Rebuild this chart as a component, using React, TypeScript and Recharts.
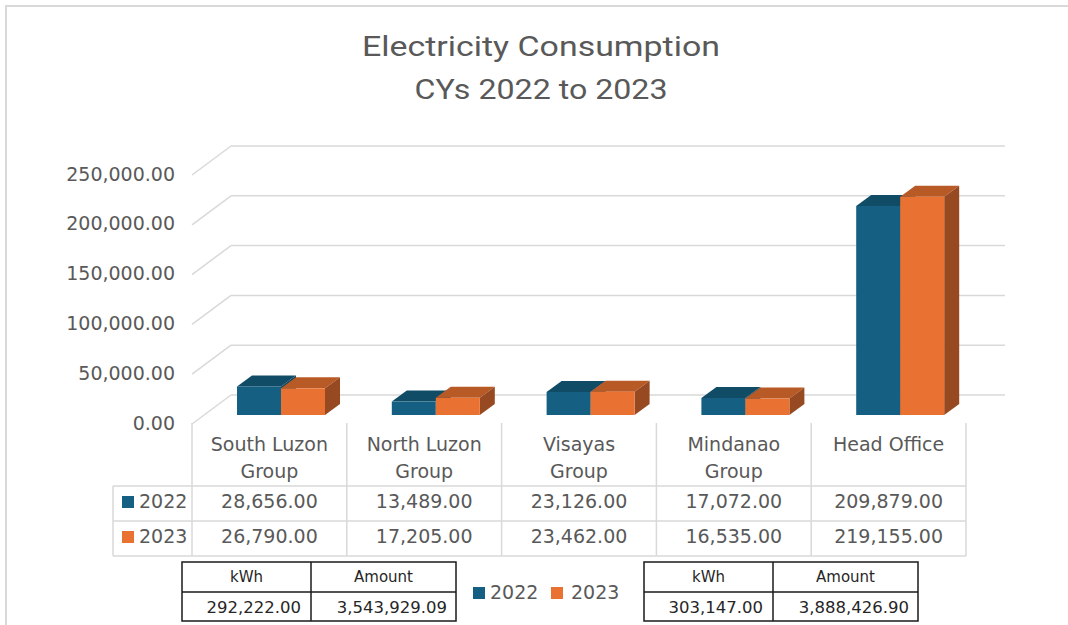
import React from "react";
import { ComposedChart, Bar, XAxis, YAxis, CartesianGrid } from "recharts";

const categories = ["South Luzon Group", "North Luzon Group", "Visayas Group", "Mindanao Group", "Head Office"];
const kwh2022 = [28656, 13489, 23126, 17072, 209879];
const kwh2023 = [26790, 17205, 23462, 16535, 219155];
const seriesNames = ["2022", "2023"];
const yTicks = [0, 50000, 100000, 150000, 200000, 250000];
const summaryHeaders = ["kWh", "Amount"];
const summaryAmounts = [3543929.09, 3888426.9];

const data = categories.map((name, i) => ({ name, y2022: kwh2022[i], y2023: kwh2023[i] }));

const W = 1068;
const H = 625;
const PLOT_L = 192;
const PLOT_R = 966;
const PLOT_T = 175;
const PLOT_B = 424;
const COL_W = (PLOT_R - PLOT_L) / categories.length;

// back wall offset and bar box depth
const WALL_DX = 39;
const WALL_DY = 29;
const BAR_SHIFT_X = 12;
const BAR_SHIFT_Y = -9;
const BOX_DX = 15;
const BOX_DY = 11;

const TEXT = "#595959";
const GRID = "#d9d9d9";
const FONT = "'DejaVu Sans', sans-serif";

const BLUE = { face: "#156082", top: "#114c67", side: "#0f4660" };
const ORANGE = { face: "#e97132", top: "#b85a26", side: "#974a21" };
const colors = [BLUE, ORANGE];

const fmt = (v: number) =>
    v.toLocaleString("en-US", { minimumFractionDigits: 2, maximumFractionDigits: 2 });

const wrap = (s: string, max = 12) => {
    const words = s.split(" ");
    const lines: string[] = [];
    let cur = "";
    words.forEach(w => {
        const next = cur ? cur + " " + w : w;
        if (next.length > max && cur) {
            lines.push(cur);
            cur = w;
        } else {
            cur = next;
        }
    });
    if (cur) lines.push(cur);
    return lines;
};

const renderGridLine = (p: any) => {
    const { x1, x2, y1 } = p;
    return (
        <g key={`grid-${y1}`}>
            <line x1={x1} y1={y1} x2={x1 + WALL_DX} y2={y1 - WALL_DY} stroke={GRID} strokeWidth={1.5} />
            <line x1={x1 + WALL_DX} y1={y1 - WALL_DY} x2={x2 + WALL_DX} y2={y1 - WALL_DY} stroke={GRID} strokeWidth={1.5} />
        </g>
    );
};

const makeBox = (c: { face: string, top: string, side: string }) => (p: any) => {
    const { x, y, width, height } = p;
    if (width == null || height == null) return <g />;
    const fx = x + BAR_SHIFT_X;
    const fy = y + BAR_SHIFT_Y;
    return (
        <g>
            <polygon
                points={`${fx},${fy} ${fx + BOX_DX},${fy - BOX_DY} ${fx + width + BOX_DX},${fy - BOX_DY} ${fx + width},${fy}`}
                fill={c.top}
            />
            <polygon
                points={`${fx + width},${fy} ${fx + width + BOX_DX},${fy - BOX_DY} ${fx + width + BOX_DX},${fy + height - BOX_DY} ${fx + width},${fy + height}`}
                fill={c.side}
            />
            <rect x={fx} y={fy} width={width} height={height} fill={c.face} />
        </g>
    );
};

const YTick = (p: any) => {
    const { y, payload } = p;
    return (
        <text x={175} y={y + 5.5} textAnchor="end" fontFamily={FONT} fontSize={19} fill={TEXT}>
            {fmt(payload.value)}
        </text>
    );
};

const ROW1_TOP = 486;
const ROW2_TOP = 521;
const ROW_BOTTOM = 556;
const KEY_LEFT = 113;
const rowBaselines = [508, 543];
const rowTops = [ROW1_TOP, ROW2_TOP];
const seriesValues = [kwh2022, kwh2023];

const TableTick = (p: any) => {
    const { x, payload, index } = p;
    const left = x - COL_W / 2;
    const right = x + COL_W / 2;
    const lines = wrap(payload.value);
    return (
        <g>
            {index === 0 && (
                <g>
                    <line x1={left} y1={PLOT_B - 1} x2={left} y2={ROW_BOTTOM} stroke={GRID} strokeWidth={1.5} />
                    <line x1={KEY_LEFT} y1={ROW1_TOP} x2={KEY_LEFT} y2={ROW_BOTTOM} stroke={GRID} strokeWidth={1.5} />
                    {[ROW1_TOP, ROW2_TOP, ROW_BOTTOM].map(ry => (
                        <line key={ry} x1={KEY_LEFT} y1={ry} x2={left} y2={ry} stroke={GRID} strokeWidth={1.5} />
                    ))}
                    {seriesNames.map((s, si) => (
                        <g key={s}>
                            <rect x={122} y={rowTops[si] + 10} width={12} height={12} fill={colors[si].face} />
                            <text x={139} y={rowBaselines[si]} fontFamily={FONT} fontSize={19} fill={TEXT}>{s}</text>
                        </g>
                    ))}
                </g>
            )}
            <line x1={right} y1={PLOT_B - 1} x2={right} y2={ROW_BOTTOM} stroke={GRID} strokeWidth={1.5} />
            {[ROW1_TOP, ROW2_TOP, ROW_BOTTOM].map(ry => (
                <line key={ry} x1={left} y1={ry} x2={right} y2={ry} stroke={GRID} strokeWidth={1.5} />
            ))}
            {lines.map((ln, li) => (
                <text key={li} x={x} y={451 + li * 27} textAnchor="middle" fontFamily={FONT} fontSize={19} fill={TEXT}>
                    {ln}
                </text>
            ))}
            {seriesValues.map((vals, si) => (
                <text key={si} x={x} y={rowBaselines[si]} textAnchor="middle" fontFamily={FONT} fontSize={19} fill={TEXT}>
                    {fmt(vals[index])}
                </text>
            ))}
        </g>
    );
};

const SummaryTable = ({ left, total, amount }: { left: number, total: number, amount: number }) => {
    const mid = left + 129;
    const right = left + 274;
    const top = 562;
    const midY = 592;
    const bottom = 621;
    return (
        <g>
            <rect x={left} y={top} width={right - left} height={bottom - top} fill="none" stroke="#1a1a1a" strokeWidth={1.5} />
            <line x1={mid} y1={top} x2={mid} y2={bottom} stroke="#1a1a1a" strokeWidth={1.5} />
            <line x1={left} y1={midY} x2={right} y2={midY} stroke="#1a1a1a" strokeWidth={1.5} />
            <text x={(left + mid) / 2} y={582} textAnchor="middle" fontFamily={FONT} fontSize={15} fill="#262626">{summaryHeaders[0]}</text>
            <text x={(mid + right) / 2} y={582} textAnchor="middle" fontFamily={FONT} fontSize={15} fill="#262626">{summaryHeaders[1]}</text>
            <text x={mid - 10} y={613} textAnchor="end" fontFamily={FONT} fontSize={16.5} fill="#262626">{fmt(total)}</text>
            <text x={right - 9} y={613} textAnchor="end" fontFamily={FONT} fontSize={16.5} fill="#262626">{fmt(amount)}</text>
        </g>
    );
};

const sum = (arr: number[]) => arr.reduce((a, b) => a + b, 0);

export default function App() {
    return (
        <div style={{ position: "absolute", left: 0, top: 0, width: W, height: H, background: "#fff" }}>
            <ComposedChart
                width={W}
                height={H}
                data={data}
                margin={{ top: PLOT_T, right: W - PLOT_R, left: 0, bottom: 0 }}
                barGap={0}
            >
                <CartesianGrid vertical={false} horizontal={renderGridLine} />
                <YAxis
                    width={PLOT_L}
                    domain={[0, 250000]}
                    ticks={yTicks}
                    axisLine={false}
                    tickLine={false}
                    tick={YTick}
                    interval={0}
                />
                <XAxis
                    dataKey="name"
                    height={H - PLOT_B}
                    axisLine={false}
                    tickLine={false}
                    interval={0}
                    tick={TableTick}
                />
                <Bar dataKey="y2022" barSize={44} shape={makeBox(BLUE)} isAnimationActive={false} />
                <Bar dataKey="y2023" barSize={44} shape={makeBox(ORANGE)} isAnimationActive={false} />
            </ComposedChart>
            <svg width={W} height={H} style={{ position: "absolute", left: 0, top: 0, pointerEvents: "none" }}>
                <line x1={5} y1={6} x2={W} y2={6} stroke={GRID} strokeWidth={2} />
                <line x1={6} y1={6} x2={6} y2={H} stroke={GRID} strokeWidth={2} />
                <text x={541} y={56} textAnchor="middle" fontFamily="'Liberation Sans Narrow', Roboto, sans-serif" fontSize={28} fill={TEXT}
                    textLength={358} lengthAdjust="spacingAndGlyphs">
                    Electricity Consumption
                </text>
                <text x={541} y={99} textAnchor="middle" fontFamily="'Liberation Sans Narrow', Roboto, sans-serif" fontSize={28} fill={TEXT}
                    textLength={253} lengthAdjust="spacingAndGlyphs">
                    CYs 2022 to 2023
                </text>
                <SummaryTable left={182} total={sum(kwh2022)} amount={summaryAmounts[0]} />
                <SummaryTable left={644} total={sum(kwh2023)} amount={summaryAmounts[1]} />
                <rect x={473} y={587} width={12} height={12} fill={BLUE.face} />
                <text x={490} y={599} fontFamily={FONT} fontSize={19} fill={TEXT}>{seriesNames[0]}</text>
                <rect x={551} y={587} width={12} height={12} fill={ORANGE.face} />
                <text x={571} y={599} fontFamily={FONT} fontSize={19} fill={TEXT}>{seriesNames[1]}</text>
            </svg>
        </div>
    );
}
